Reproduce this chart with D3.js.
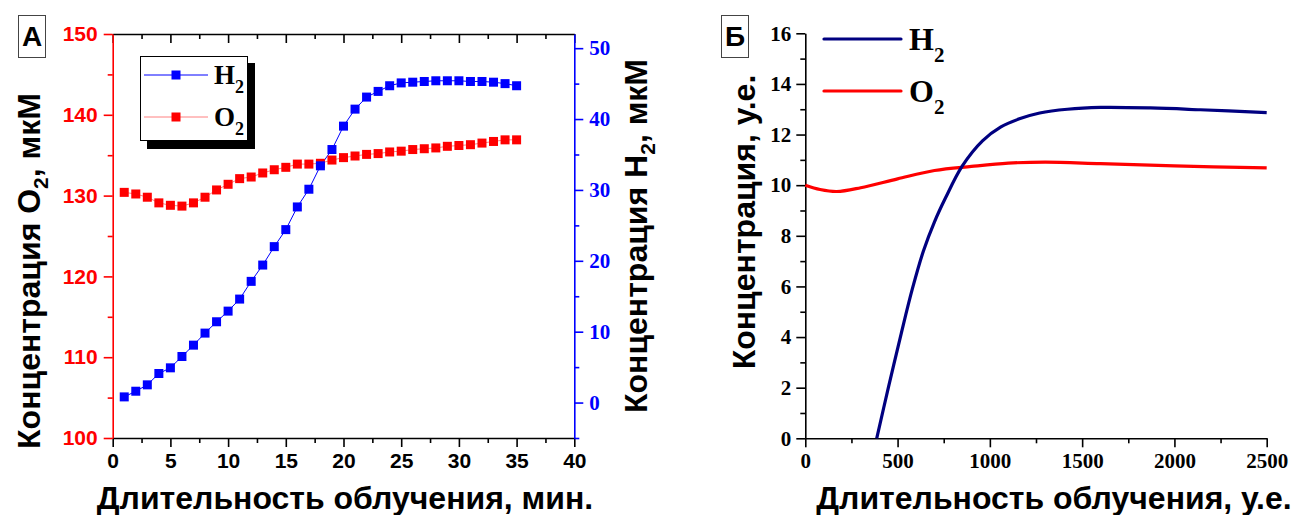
<!DOCTYPE html>
<html>
<head>
<meta charset="utf-8">
<script src="https://cdn.jsdelivr.net/npm/d3@7"></script>
<style>
  html, body { margin: 0; padding: 0; background: #fff; }
  svg { display: block; }
  .sans { font-family: "Liberation Sans", Arial, sans-serif; font-weight: bold; }
  .serif { font-family: "Liberation Serif", "Times New Roman", serif; font-weight: bold; }
</style>
</head>
<body>
<svg id="chart" width="1301" height="515"></svg>
<script>
// Panel А: measured concentrations vs irradiation time
const minutes = [1,2,3,4,5,6,7,8,9,10,11,12,13,14,15,16,17,18,19,20,21,22,23,24,25,26,27,28,29,30,31,32,33,34,35];
const h2Measured = [0.8,1.6,2.5,4.1,4.9,6.5,8.1,9.8,11.4,12.9,14.6,17.1,19.4,22.0,24.4,27.6,30.1,33.4,35.7,39.0,41.4,43.1,43.9,44.7,45.1,45.2,45.3,45.4,45.4,45.4,45.3,45.3,45.2,45.0,44.7];
const o2Measured = [130.4,130.2,129.8,129.1,128.8,128.7,129.1,129.8,130.7,131.4,132.1,132.3,132.8,133.2,133.5,133.9,133.9,134.0,134.4,134.7,134.9,135.1,135.2,135.4,135.5,135.7,135.8,135.9,136.1,136.2,136.3,136.5,136.7,136.9,136.9];
const ticksA_x = [0,5,10,15,20,25,30,35,40];
const ticksA_o2 = [100,110,120,130,140,150];
const ticksA_h2 = [0,10,20,30,40,50];

// Panel Б: model curves (arbitrary units)
const h2ModelT = [387,450,520,580,640,700,760,850,960,1060,1160,1270,1420,1600,1870,2140,2500];
const h2ModelC = [0,2.0,4.15,5.9,7.4,8.55,9.5,10.75,11.75,12.3,12.62,12.85,13.0,13.07,13.05,12.98,12.87];
const o2ModelT = [0,80,170,300,500,700,900,1100,1300,1600,2000,2500];
const o2ModelC = [10.0,9.83,9.75,9.9,10.25,10.58,10.74,10.87,10.91,10.85,10.76,10.68];
const ticksB_x = [0,500,1000,1500,2000,2500];
const ticksB_y = [0,2,4,6,8,10,12,14,16];

const svg = d3.select("#chart");

function styleAxis(g, color, fontClass, size) {
  g.select(".domain").attr("stroke", color).attr("stroke-width", 1.6);
  g.selectAll(".tick line").attr("stroke", color).attr("stroke-width", 1.6);
  g.selectAll(".tick text").attr("class", fontClass).attr("fill", color).style("font-size", size + "px");
}
function minorTicks(g, color) {
  g.select(".domain").remove();
  g.selectAll("line").attr("stroke", color).attr("stroke-width", 1.6);
}

// ---------- Panel А ----------
const xA = d3.scaleLinear().domain([0, 40]).range([112.7, 574.3]);
const yO2 = d3.scaleLinear().domain([100, 150]).range([438, 34]);
const yH2 = d3.scaleLinear().domain([-5, 52]).range([438, 34]);

const gA = svg.append("g");

// bottom axis + minor ticks
gA.append("g").attr("transform", "translate(0,438)")
  .call(d3.axisBottom(xA).tickValues(d3.range(2.5, 40, 5)).tickSize(5).tickFormat(""))
  .call(g => minorTicks(g, "#000"));
gA.append("g").attr("transform", "translate(0,438)")
  .call(d3.axisBottom(xA).tickValues(ticksA_x).tickSize(9).tickSizeOuter(0).tickPadding(6))
  .call(g => styleAxis(g, "#000", "sans", 21));

// top frame with inward ticks
gA.append("g").attr("transform", "translate(0,34)")
  .call(d3.axisBottom(xA).tickValues(ticksA_x).tickSize(9).tickSizeOuter(0).tickFormat(""))
  .call(g => styleAxis(g, "#000", "sans", 21));
gA.append("g").attr("transform", "translate(0,34)")
  .call(d3.axisBottom(xA).tickValues(d3.range(2.5, 40, 5)).tickSize(5).tickFormat(""))
  .call(g => minorTicks(g, "#000"));

// left O2 axis (red)
gA.append("g").attr("transform", "translate(112.7,0)")
  .call(d3.axisLeft(yO2).tickValues(d3.range(105, 150, 10)).tickSize(5).tickFormat(""))
  .call(g => minorTicks(g, "#ff0000"));
gA.append("g").attr("transform", "translate(112.7,0)")
  .call(d3.axisLeft(yO2).tickValues(ticksA_o2).tickSize(9).tickSizeOuter(0).tickPadding(6))
  .call(g => styleAxis(g, "#ff0000", "sans", 21));

// right H2 axis (blue)
gA.append("g").attr("transform", "translate(574.3,0)")
  .call(d3.axisRight(yH2).tickValues(d3.range(-5, 52, 10)).tickSize(5).tickFormat(""))
  .call(g => minorTicks(g, "#0000ff"));
gA.append("g").attr("transform", "translate(574.3,0)")
  .call(d3.axisRight(yH2).tickValues(ticksA_h2).tickSize(9).tickSizeOuter(0).tickPadding(6))
  .call(g => styleAxis(g, "#0000ff", "serif", 21));

// series lines + square markers
const ms = 9;
gA.append("path")
  .datum(minutes.map((m, i) => [m, o2Measured[i]]))
  .attr("fill", "none").attr("stroke", "#ff8080").attr("stroke-width", 1)
  .attr("d", d3.line().x(d => xA(d[0])).y(d => yO2(d[1])));
gA.append("path")
  .datum(minutes.map((m, i) => [m, h2Measured[i]]))
  .attr("fill", "none").attr("stroke", "#0000ff").attr("stroke-width", 1)
  .attr("d", d3.line().x(d => xA(d[0])).y(d => yH2(d[1])));
gA.append("g").selectAll("rect").data(minutes)
  .join("rect")
  .attr("x", (m) => xA(m) - ms / 2).attr("y", (m, i) => yO2(o2Measured[i]) - ms / 2)
  .attr("width", ms).attr("height", ms).attr("fill", "#ff0000");
gA.append("g").selectAll("rect").data(minutes)
  .join("rect")
  .attr("x", (m) => xA(m) - ms / 2).attr("y", (m, i) => yH2(h2Measured[i]) - ms / 2)
  .attr("width", ms).attr("height", ms).attr("fill", "#0000ff");

// legend with drop shadow
const legA = gA.append("g");
legA.append("rect").attr("x", 147).attr("y", 63).attr("width", 108).attr("height", 86).attr("fill", "#000");
legA.append("rect").attr("x", 140.5).attr("y", 56.5).attr("width", 107).attr("height", 84)
  .attr("fill", "#fff").attr("stroke", "#000").attr("stroke-width", 1);
const legItemsA = [
  { label: "H", y: 75, line: "#0000ff", mark: "#0000ff" },
  { label: "O", y: 117, line: "#ff8080", mark: "#ff0000" }
];
legItemsA.forEach(it => {
  legA.append("line").attr("x1", 144).attr("x2", 208).attr("y1", it.y).attr("y2", it.y)
    .attr("stroke", it.line).attr("stroke-width", 1);
  legA.append("rect").attr("x", 176 - 4.5).attr("y", it.y - 4.5).attr("width", 9).attr("height", 9).attr("fill", it.mark);
  const t = legA.append("text").attr("class", "serif").attr("x", 214).attr("y", it.y + 9)
    .style("font-size", "27px").attr("fill", "#000");
  t.append("tspan").text(it.label);
  t.append("tspan").attr("dy", 9).style("font-size", "18px").text("2");
});

// panel tag
gA.append("rect").attr("x", 18.5).attr("y", 15.5).attr("width", 27).attr("height", 42)
  .attr("fill", "#fff").attr("stroke", "#444").attr("stroke-width", 1);
gA.append("text").attr("class", "sans").attr("x", 32).attr("y", 46).attr("text-anchor", "middle")
  .style("font-size", "28px").text("А");

// axis titles
function subTitle(t, pre, post) {
  t.append("tspan").text(pre);
  t.append("tspan").attr("dy", 8).style("font-size", "21px").text("2");
  t.append("tspan").attr("dy", -8).text(post);
}
gA.append("text").attr("class", "sans").attr("text-anchor", "middle")
  .attr("transform", "translate(40,271) rotate(-90)").style("font-size", "32px")
  .call(t => subTitle(t, "Концентрация O", ", мкМ"));
gA.append("text").attr("class", "sans").attr("text-anchor", "middle")
  .attr("transform", "translate(647,236) rotate(-90)").style("font-size", "32px")
  .call(t => subTitle(t, "Концентрация H", ", мкМ"));
gA.append("text").attr("class", "sans").attr("text-anchor", "middle")
  .attr("x", 345).attr("y", 509).style("font-size", "32px").text("Длительность облучения, мин.");

// ---------- Panel Б ----------
const xB = d3.scaleLinear().domain([0, 2500]).range([805.3, 1266.7]);
const yB = d3.scaleLinear().domain([0, 16]).range([438.3, 33.3]);
const gB = svg.append("g");

gB.append("g").attr("transform", "translate(0,438.3)")
  .call(d3.axisBottom(xB).tickValues(d3.range(250, 2500, 500)).tickSize(5).tickFormat(""))
  .call(g => minorTicks(g, "#000"));
gB.append("g").attr("transform", "translate(0,438.3)")
  .call(d3.axisBottom(xB).tickValues(ticksB_x).tickSize(9).tickSizeOuter(0).tickPadding(6).tickFormat(d3.format("d")))
  .call(g => styleAxis(g, "#000", "serif", 21));
gB.append("g").attr("transform", "translate(805.3,0)")
  .call(d3.axisLeft(yB).tickValues(d3.range(1, 16, 2)).tickSize(5).tickFormat(""))
  .call(g => minorTicks(g, "#000"));
gB.append("g").attr("transform", "translate(805.3,0)")
  .call(d3.axisLeft(yB).tickValues(ticksB_y).tickSize(9).tickSizeOuter(0).tickPadding(5))
  .call(g => styleAxis(g, "#000", "serif", 21));

const lineB = d3.line().curve(d3.curveCatmullRom.alpha(0.5)).x(d => xB(d[0])).y(d => yB(d[1]));
gB.append("path").datum(o2ModelT.map((t, i) => [t, o2ModelC[i]]))
  .attr("fill", "none").attr("stroke", "#ff0000").attr("stroke-width", 3.2).attr("d", lineB);
gB.append("path").datum(h2ModelT.map((t, i) => [t, h2ModelC[i]]))
  .attr("fill", "none").attr("stroke", "#000080").attr("stroke-width", 3.2).attr("d", lineB);

// legend
const legItemsB = [
  { label: "H", y: 39, color: "#000080" },
  { label: "O", y: 91, color: "#ff0000" }
];
legItemsB.forEach(it => {
  gB.append("line").attr("x1", 824).attr("x2", 901).attr("y1", it.y).attr("y2", it.y)
    .attr("stroke", it.color).attr("stroke-width", 3.2).attr("stroke-linecap", "round");
  const t = gB.append("text").attr("class", "serif").attr("x", 909).attr("y", it.y + 11)
    .style("font-size", "32px").attr("fill", "#000");
  t.append("tspan").text(it.label);
  t.append("tspan").attr("dy", 12).style("font-size", "21px").text("2");
});

gB.append("rect").attr("x", 721.5).attr("y", 15.5).attr("width", 27).attr("height", 42)
  .attr("fill", "#fff").attr("stroke", "#444").attr("stroke-width", 1);
gB.append("text").attr("class", "sans").attr("x", 735).attr("y", 46).attr("text-anchor", "middle")
  .style("font-size", "28px").text("Б");

gB.append("text").attr("class", "sans").attr("text-anchor", "middle")
  .attr("transform", "translate(755,222) rotate(-90)").style("font-size", "32px")
  .text("Концентрация, у.е.");
gB.append("text").attr("class", "sans").attr("text-anchor", "middle")
  .attr("x", 1054).attr("y", 509).style("font-size", "32px").text("Длительность облучения, у.е.");
</script>
</body>
</html>
